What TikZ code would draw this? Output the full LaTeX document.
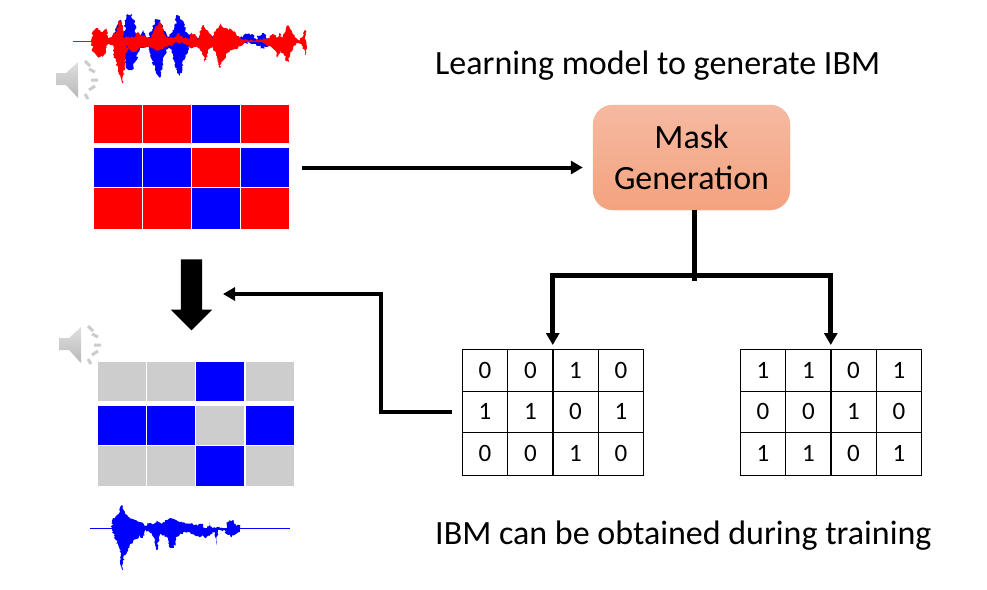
\documentclass[tikz,border=0pt]{standalone}
\usepackage{fontspec}
\setmainfont{Carlito}
\usetikzlibrary{arrows.meta,shapes.arrows,decorations.pathmorphing}
\definecolor{cellgray}{HTML}{CDCDCD}
\definecolor{masktop}{HTML}{F5BAA2}
\definecolor{maskbot}{HTML}{F4A27E}
\definecolor{maskline}{HTML}{F2AE90}
\begin{document}
\begin{tikzpicture}[
    x=1pt, y=-1pt,
    every node/.style={font=\fontsize{34}{41}\selectfont},
    cell/.style={inner sep=0pt, outer sep=0pt, minimum width=48pt},
    bit/.style={draw=black, line width=1pt, inner sep=0pt, outer sep=0pt,
                minimum width=45.5pt, font=\fontsize{25}{28}\selectfont},
    mask/.style={rounded corners=20pt, draw=maskline, top color=masktop,
                 bottom color=maskbot, minimum width=197pt, minimum height=105pt,
                 align=center, inner sep=0pt},
    title/.style={anchor=base west, inner sep=0pt},
    link/.style={line width=4pt, black},
    bus/.style={line width=5pt, black},
    head/.style={-{Triangle[length=12pt,width=13pt]}},
    rough/.style={decorate, decoration={random steps, segment length=1.6pt, amplitude=1.3pt}},
]
\useasboundingbox (0,0) rectangle (987,589);
\pgfmathsetseed{7}

% ── Waveform of the mixture ──
\fill[blue, rough] (113,41) -- (116,28) -- (120,20) -- (124,35) -- (126,16) -- (131,14)
    -- (134,20) -- (136,35) -- (140,38) -- (143,30) -- (148,38) -- (152,30)
    -- (155,19) -- (160,20) -- (163,30) -- (168,37) -- (174,30) -- (177,15)
    -- (182,20) -- (186,32) -- (192,35) -- (196,38) -- (220,36) -- (240,38)
    -- (247,34) -- (252,34) -- (256,40) -- (258,36) -- (262,33) -- (266,35)
    -- (268,41) -- (268,47) -- (262,48) -- (256,44) -- (250,43) -- (196,42)
    -- (190,45) -- (184,60) -- (180,76) -- (176,70) -- (172,50) -- (168,48)
    -- (163,60) -- (160,78) -- (156,72) -- (152,60) -- (148,46) -- (140,48)
    -- (135,62) -- (132,70) -- (128,70) -- (125,62) -- (122,45) -- (118,55)
    -- (114,45) -- cycle;
\draw[red, line width=0.8pt] (73,41) -- (306,41);
\fill[red, rough] (91,41) -- (93,31) -- (96,28) -- (100,30) -- (103,32) -- (106,27)
    -- (108,38) -- (112,36) -- (116,32) -- (120,18) -- (123,30) -- (124,38)
    -- (130,38) -- (134,37) -- (138,32) -- (142,36) -- (150,38) -- (155,28)
    -- (160,22) -- (164,32) -- (168,38) -- (175,37) -- (178,33) -- (182,37)
    -- (188,39) -- (192,33) -- (196,36) -- (198,40) -- (203,25) -- (207,30)
    -- (212,38) -- (216,30) -- (220,24) -- (226,28) -- (232,30) -- (236,34)
    -- (240,38) -- (246,40) -- (262,40) -- (268,38) -- (272,34) -- (277,38)
    -- (279,33) -- (282,38) -- (285,32) -- (288,25) -- (292,32) -- (296,38)
    -- (300,40) -- (303,36) -- (305,30) -- (306,41) -- (306,55) -- (303,46)
    -- (298,43) -- (293,47) -- (288,63) -- (284,55) -- (280,50) -- (278,58)
    -- (275,50) -- (270,46) -- (265,44) -- (262,42) -- (245,42) -- (238,48)
    -- (230,50) -- (226,54) -- (220,68) -- (216,55) -- (213,47) -- (208,50)
    -- (205,62) -- (202,52) -- (196,46) -- (190,48) -- (186,44) -- (176,42)
    -- (172,46) -- (168,46) -- (160,50) -- (155,50) -- (150,46) -- (140,48)
    -- (135,52) -- (130,50) -- (127,45) -- (126,60) -- (122.5,83) -- (118,70)
    -- (114,56) -- (112,45) -- (108,44) -- (104,55) -- (100,57) -- (97,56)
    -- (93,52) -- cycle;

% ── Waveform of the target ──
\draw[blue, line width=0.8pt] (90,528) -- (290,528);
\fill[blue, rough] (112,528) -- (113,518) -- (116,516) -- (119,514) -- (122,505)
    -- (125,512) -- (127,515) -- (130,518) -- (135,520) -- (140,522) -- (146,526)
    -- (150,523) -- (153,525) -- (157,520) -- (162,524) -- (167,520) -- (170,518)
    -- (176,520) -- (180,522) -- (186,524) -- (192,523) -- (198,526) -- (202,524)
    -- (205,528) -- (207,528) -- (210,522) -- (212,528) -- (226,528) -- (228,522)
    -- (233,520) -- (236,526) -- (239,525) -- (240,528) -- (240,532) -- (236,534)
    -- (232,537) -- (228,535) -- (224,530) -- (218,530) -- (217,545) -- (215,532)
    -- (206,538) -- (202,536) -- (198,536) -- (193,534) -- (185,532) -- (176,538)
    -- (174,548) -- (170,548) -- (168,538) -- (160,534) -- (158,542) -- (157,550)
    -- (155,540) -- (152,533) -- (146,530) -- (143,538) -- (139,536) -- (133,542)
    -- (130,545) -- (125,555) -- (122,570) -- (120,550) -- (116,540) -- (112,530)
    -- cycle;

% ── Speakers ──
\foreach \dx/\dy in {0/0, 3/265} {
  \begin{scope}[shift={(\dx,\dy)}]
    \shade[top color=gray!25, bottom color=gray!55] (56,73) -- (66,73) -- (78,62)
        -- (78,98) -- (66,85) -- (56,85) -- cycle;
    \draw[gray!40, line width=3pt] (85,61) -- (90,66) (89,69) -- (95,72)
        (91,80) -- (98,80) (89,90) -- (95,86) (85,94) -- (88,99);
  \end{scope}
}

% ── Coloured grids ──
\foreach \col/\x/\cola/\colb in {1/118/red/blue, 2/167/red/blue, 3/216/blue/red, 4/265/red/blue} {
  \node[cell, minimum height=38pt, fill=\cola] (in-1-\col) at (\x,124) {};
  \node[cell, minimum height=39pt, fill=\colb] (in-2-\col) at (\x,167.5) {};
  \node[cell, minimum height=41pt, fill=\cola] (in-3-\col) at (\x,208.5) {};
}
\foreach \col/\x/\cola/\colb in {1/122/cellgray/blue, 2/171/cellgray/blue, 3/220/blue/cellgray, 4/269.5/cellgray/blue} {
  \node[cell, minimum height=39pt, fill=\cola] (out-1-\col) at (\x,381.5) {};
  \node[cell, minimum height=39pt, fill=\colb] (out-2-\col) at (\x,425.5) {};
  \node[cell, minimum height=40pt, fill=\cola] (out-3-\col) at (\x,466) {};
}

% ── Mask tables ──
\foreach \col/\x/\a/\b in {1/485/0/1, 2/530.5/0/1, 3/575.5/1/0, 4/621/0/1} {
  \node[bit, minimum height=42pt] (lt-1-\col) at (\x,370) {\a};
  \node[bit, minimum height=41pt] (lt-2-\col) at (\x,411.5) {\b};
  \node[bit, minimum height=43pt] (lt-3-\col) at (\x,453.5) {\a};
}
\foreach \col/\x/\a/\b in {1/763/1/0, 2/808.5/1/0, 3/853.5/0/1, 4/899/1/0} {
  \node[bit, minimum height=42pt] (rt-1-\col) at (\x,370) {\a};
  \node[bit, minimum height=41pt] (rt-2-\col) at (\x,411.5) {\b};
  \node[bit, minimum height=43pt] (rt-3-\col) at (\x,453.5) {\a};
}

% ── Box and titles ──
\node[mask] (gen) at (691.5,157.5) {Mask\\Generation};
\node[title] (top) at (435,74) {Learning model to generate IBM};
\node[title] (bot) at (435,544) {IBM can be obtained during training};
\node[single arrow, fill=black, inner sep=10.5pt, minimum height=71pt, minimum width=41pt,
      single arrow head extend=10pt, shape border rotate=270] (down) at (191.5,289.5) {};

% ── Connectors ──
\coordinate (split) at (694,275);
\coordinate (bend) at (381,294);
\draw[link, head, shorten <=13pt, shorten >=10pt] (in-2-4.east) -- (in-2-4.east -| gen.west);
\draw[bus] ([xshift=2.5pt]gen.south) -- (694,281);
\draw[bus, head, shorten >=4pt] (split) -| (lt-1-3.north west);
\draw[bus, head, shorten >=4pt] (split) -| (rt-1-3.north west);
\draw[link, head, shorten <=10pt, shorten >=31.5pt] (lt-2-1.west) -| (bend) -- (bend -| down);
\end{tikzpicture}
\end{document}
